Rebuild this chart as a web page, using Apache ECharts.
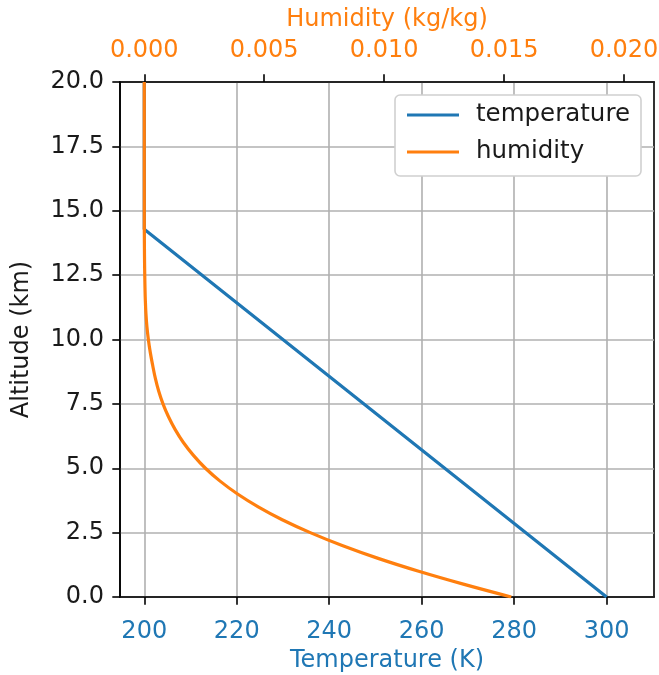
<!DOCTYPE html>
<html>
<head>
<meta charset="utf-8">
<script src="https://cdn.jsdelivr.net/npm/echarts@6/dist/echarts.min.js"></script>
<style>
html,body{margin:0;padding:0;background:#fff;}
#chart{width:659px;height:675px;}
</style>
</head>
<body>
<div id="chart"></div>
<script>
// Temperature profile (K) vs altitude (km)
var tempAltitude = [0, 14.2857, 20];
var temperature = [300, 200, 200];

// Humidity profile (kg/kg) vs altitude (km)
var humAltitude = [0, 0.5, 1.0, 1.5, 2.0, 2.5, 3.0, 3.5, 4.0, 4.5, 5.0, 5.5, 6.0, 6.5, 7.0, 7.5, 8.0, 8.5, 9.0, 9.5, 10.0, 10.5, 11.0, 11.5, 12.0, 12.5, 13.0, 13.5, 14.0, 14.3, 20];
var humidity = [0.0153, 0.0133, 0.01144, 0.00975, 0.00825, 0.00692, 0.00575, 0.00475, 0.00389, 0.00316, 0.00255, 0.00205, 0.00163, 0.00129, 0.00101, 0.00078, 0.00060, 0.00046, 0.00035, 0.00025, 0.00017, 0.00011, 0.00007, 0.000045, 0.00003, 0.00002, 0.000012, 0.000007, 0.000003, 0.000001, 0.0];

// Tick values
var tempTicks = [200, 220, 240, 260, 280, 300];
var humTicks = [0, 0.005, 0.010, 0.015, 0.020];

var BLUE = '#1f77b4', ORANGE = '#ff7f0e';
var FS = 24;
var FONT = 'DejaVu Sans';

var chart = echarts.init(document.getElementById('chart'), null, {renderer: 'canvas'});
var option = {
  animation: false,
  textStyle: {fontFamily: FONT},
  grid: {left: 120, right: 5, top: 82, bottom: 78, containLabel: false, outerBoundsMode: 'none', show: true, borderColor: '#000', borderWidth: 1.6, backgroundColor: 'transparent'},
  legend: {
    orient: 'vertical',
    right: 18, top: 95,
    backgroundColor: '#fff',
    borderColor: '#d0d0d0', borderWidth: 1.6, borderRadius: 5,
    padding: [6, 11, 10, 12],
    itemWidth: 52, itemHeight: 3.2, itemGap: 9,
    textStyle: {fontFamily: FONT, fontSize: 24.5, color: '#1a1a1a', lineHeight: 28, padding: [0, 0, 0, 12]},
    data: [{name: 'temperature', icon: 'rect'}, {name: 'humidity', icon: 'rect'}]
  },
  xAxis: [
    {
      type: 'value', position: 'bottom',
      min: 194.75, max: 310.25,
      name: 'Temperature (K)', nameLocation: 'middle', nameGap: 51,
      nameTextStyle: {color: BLUE, fontSize: FS, fontFamily: FONT},
      axisLine: {show: true, onZero: false, lineStyle: {color: '#000', width: 1.6}},
      axisTick: {show: true, inside: false, length: 7.7, lineStyle: {color: '#000', width: 1.6}, customValues: tempTicks},
      axisLabel: {color: BLUE, fontSize: FS, fontFamily: FONT, margin: 23, customValues: tempTicks, formatter: function(v){return String(Math.round(v));}},
      splitLine: {show: true, lineStyle: {color: '#b0b0b0', width: 1.6}}
    },
    {
      type: 'value', position: 'top',
      min: -0.001012, max: 0.02125,
      name: 'Humidity (kg/kg)', nameLocation: 'middle', nameGap: 50,
      nameTextStyle: {color: ORANGE, fontSize: FS, fontFamily: FONT},
      axisLine: {show: true, onZero: false, lineStyle: {color: '#000', width: 1.6}},
      axisTick: {show: true, inside: false, length: 7.7, lineStyle: {color: '#000', width: 1.6}, customValues: humTicks},
      axisLabel: {color: ORANGE, fontSize: FS, fontFamily: FONT, margin: 19, customValues: humTicks, formatter: function(v){return v.toFixed(3);}},
      splitLine: {show: false}
    }
  ],
  yAxis: [
    {
      type: 'value', min: 0, max: 20, interval: 2.5,
      name: 'Altitude (km)', nameLocation: 'middle', nameGap: 86, nameRotate: 90,
      nameTextStyle: {color: '#1a1a1a', fontSize: FS, fontFamily: FONT},
      axisLine: {show: true, onZero: false, lineStyle: {color: '#000', width: 1.6}},
      axisTick: {show: true, inside: false, length: 7.7, lineStyle: {color: '#000', width: 1.6}},
      axisLabel: {color: '#1a1a1a', fontSize: FS, fontFamily: FONT, margin: 16, formatter: function(v){return v.toFixed(1);}},
      splitLine: {show: true, lineStyle: {color: '#b0b0b0', width: 1.6}}
    }
  ],
  series: [
    {
      name: 'temperature', type: 'line', xAxisIndex: 0, yAxisIndex: 0,
      showSymbol: false, symbol: 'none', color: BLUE,
      lineStyle: {color: BLUE, width: 3.2},
      data: temperature.map(function(t, i){return [t, tempAltitude[i]];}),
      z: 3
    },
    {
      name: 'humidity', type: 'line', xAxisIndex: 1, yAxisIndex: 0,
      showSymbol: false, symbol: 'none', color: ORANGE, smooth: 0.4,
      lineStyle: {color: ORANGE, width: 3.2},
      data: humidity.map(function(h, i){return [h, humAltitude[i]];}),
      z: 4
    }
  ]
};
chart.setOption(option);
</script>
</body>
</html>
